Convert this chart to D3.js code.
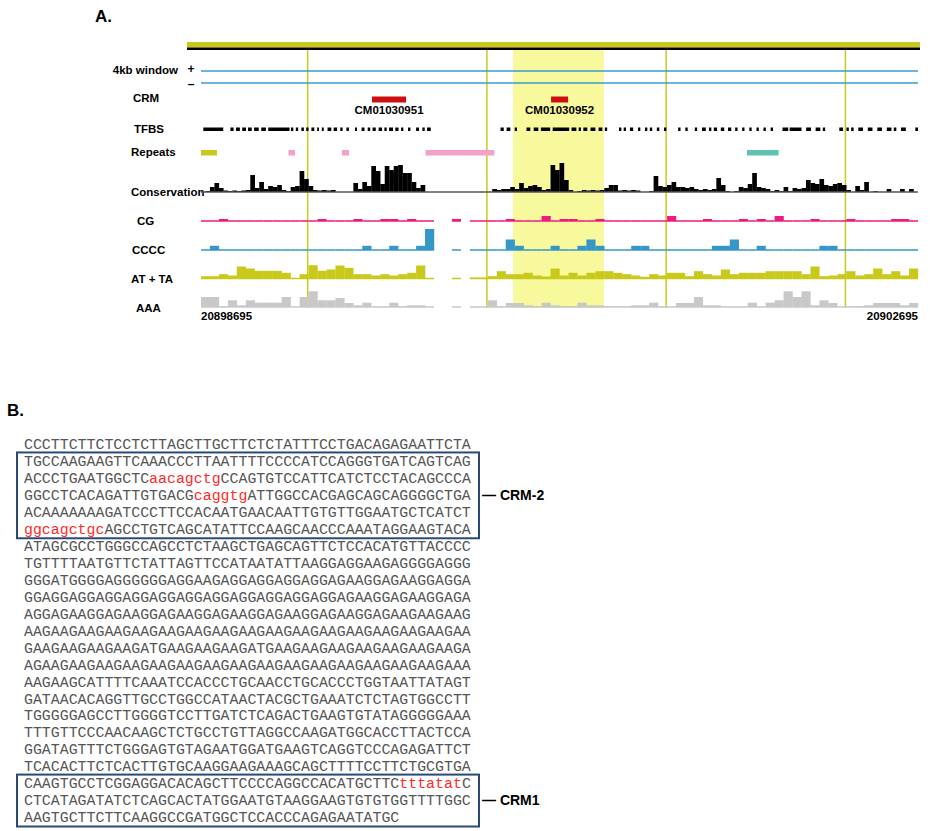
<!DOCTYPE html>
<html>
<head>
<meta charset="utf-8">
<script src="https://cdn.jsdelivr.net/npm/d3@7"></script>
<style>
  body { margin: 0; background: #fff; }
</style>
</head>
<body>
<div id="chart"></div>
<script>
// ---- data (positions are bp offsets from regionStart) ----
var regionStart = 20898695
var regionEnd = 20902695
var binSize = 50      // composition tracks
var consBinSize = 25  // conservation track

var trackLabels = ["4kb window", "CRM", "TFBS", "Repeats", "Conservation", "CG", "CCCC", "AT + TA", "AAA"]

var crmNames = ["CM01030951", "CM01030952"]
var crmStarts = [954, 1953]
var crmEnds = [1144, 2048]

var gridLines = [595, 1595, 2595, 3595]
var highlight = [1741, 2248]

var repeatStarts = [0, 488, 786, 1253, 3046]
var repeatEnds = [89, 524, 826, 1636, 3222]
var repeatKinds = ["simple", "sine", "sine", "sine", "ltr"]

var tfbsStarts = [13, 164, 195, 230, 262, 296, 336, 375, 502, 529, 560, 587, 616, 648, 674, 706, 740, 777, 811, 859, 896, 930, 957, 991, 1023, 1049, 1084, 1116, 1155, 1200, 1235, 1261,
  1671, 1705, 1750, 1816, 1856, 1896, 1962, 2067, 2107, 2133, 2173, 2218, 2253, 2332, 2358, 2393, 2438, 2477, 2504, 2543, 2583, 2662, 2702, 2755, 2795, 2834, 2861, 2900, 2940, 2980,
  3019, 3059, 3099, 3138, 3178, 3244, 3284, 3376, 3429, 3469, 3561, 3601, 3627, 3667, 3720, 3773, 3826, 3865, 3905, 3985]
var tfbsEnds = [124, 182, 217, 251, 283, 322, 362, 494, 515, 542, 574, 600, 632, 658, 685, 727, 759, 790, 825, 870, 912, 944, 975, 1010, 1036, 1071, 1102, 1129, 1168, 1216, 1248, 1282,
  1689, 1726, 1763, 1837, 1882, 1948, 2054, 2094, 2120, 2155, 2200, 2239, 2266, 2345, 2371, 2411, 2451, 2490, 2517, 2557, 2596, 2675, 2715, 2768, 2816, 2847, 2879, 2919, 2958, 2993,
  3032, 3072, 3112, 3151, 3191, 3276, 3350, 3403, 3455, 3482, 3582, 3614, 3641, 3693, 3746, 3799, 3852, 3879, 3932, 4000]

// conservation score, 160 bins of 25 bp
var conservation = [0, 1, 5, 9, 4, 1.5, 1, 1.5, 1, 1.5, 2, 17, 4, 10, 3, 6, 5, 7, 2, 1,
  5, 6, 21, 13, 6, 2, 1.5, 2, 1.5, 2, 0, 0, 0, 0, 9, 3, 10, 6, 26, 21,
  8, 26, 22, 26, 27, 19, 19, 10, 4, 7, 0, 0, 0, 0, 0, 0, 0, 0, 0, 0,
  0, 0, 0, 0, 0, 3, 2, 3, 3, 5, 3, 9, 4, 6, 7, 5, 2, 3, 27, 22,
  29, 12, 2, 0, 1, 2, 1.5, 2, 1.5, 2, 4, 7, 7, 1.5, 2, 1.5, 2, 1.5, 0, 0,
  1, 16, 6, 5, 7, 10, 5, 5, 4, 5, 3, 2, 3, 2, 3, 14, 7, 1, 0, 1,
  5, 4, 8, 19, 5, 4, 3, 1, 2, 1, 5, 1, 4, 3, 4, 12, 9, 8, 13, 7,
  6, 8, 9, 7, 2, 0, 6, 2, 10, 0, 1, 0, 0, 3, 0, 0, 3, 0, 3, 0]

// composition tracks, 80 bins of 50 bp (null = no data)
var cg = [0, 0, 1, 0, 0, 0, 0, 0, 0, 0, 0, 0, 0, 1, 0, 0, 0, 1, 0, 0,
  1, 1, 0, 1, 0, 0, null, null, 1, null, 0, 0, 0, 0, 1, 0, 0, 0, 2.5, 0,
  1, 1, 0, 0, 1, 0, 0, 0, 0, 0, 0, 0, 2.5, 0, 0, 0, 1, 0, 0, 0,
  1, 0, 1, 0, 2.5, 0, 0, 0, 1, 0, 0, 0, 1, 0, 0, 0, 0, 1, 1, 0]
var cccc = [0, 1, 0, 0, 0, 0, 0, 0, 0, 0, 0, 0, 0, 0, 0, 0, 0, 0, 1, 0,
  0, 1, 0, 0, 1, 5, null, null, 0, null, 0, 0, 0, 0, 2.5, 1, 0, 0, 0, 1,
  0, 0, 1, 2.5, 1, 0, 0, 0, 1, 1, 0, 0, 0, 0, 0, 0, 0, 1, 1, 2.5,
  0, 0, 1, 0, 0, 0, 0, 0, 0, 1, 1, 0, 0, 0, 0, 0, 0, 0, 0, 0]
var atta = [2.3, 2.3, 4.3, 3, 12, 10, 7.7, 7.7, 7.7, 5.7, 0, 4.3, 13.3, 7.7, 9, 13, 10.7, 4.3, 4.3, 3,
  4.3, 3, 4.3, 5.7, 13, 0, null, null, 0, null, 1, 1, 2.3, 7.3, 4.3, 4.3, 5.7, 3, 2, 10,
  3, 5.7, 3, 5.7, 7.3, 7.3, 5.7, 4.3, 3, 1.7, 4.3, 3, 5.7, 5.7, 2.3, 7.3, 4.3, 3, 9, 4.3,
  5.7, 5.7, 5.7, 7.3, 7.3, 7.3, 7.3, 4.3, 12, 2.3, 3, 4.3, 7.3, 3, 4.3, 10, 4.3, 7.3, 3, 10]
var aaa = [10, 10, 0.7, 6.7, 1.7, 6.7, 4.3, 4.3, 4.3, 10, 0, 10, 15.7, 6.7, 6.7, 9, 4, 1.7, 4.3, 0.3,
  0.3, 4.3, 0.7, 1.7, 1.7, 0, null, null, 0, null, 0.3, 0.3, 6.7, 0.7, 4, 4, 1.7, 0.7, 4.3, 1.7,
  0.7, 0.7, 4.3, 1.7, 1.7, 0.7, 0.7, 0.7, 1.7, 1.7, 4.3, 0.7, 0.3, 4, 4, 10, 1.7, 1.7, 0.3, 0.3,
  0.3, 4.3, 0.3, 4.3, 6.7, 15.7, 10, 15.7, 1.7, 6.7, 4, 0.3, 0.7, 0.7, 1.7, 4, 4, 4, 1.7, 4]

// section B: lowercase letters are the red motifs
var seqLines = [
  "CCCTTCTTCTCCTCTTAGCTTGCTTCTCTATTTCCTGACAGAGAATTCTA",
  "TGCCAAGAAGTTCAAACCCTTAATTTTCCCCATCCAGGGTGATCAGTCAG",
  "ACCCTGAATGGCTCaacagctgCCAGTGTCCATTCATCTCCTACAGCCCA",
  "GGCCTCACAGATTGTGACGcaggtgATTGGCCACGAGCAGCAGGGGCTGA",
  "ACAAAAAAAGATCCCTTCCACAATGAACAATTGTGTTGGAATGCTCATCT",
  "ggcagctgcAGCCTGTCAGCATATTCCAAGCAACCCAAATAGGAAGTACA",
  "ATAGCGCCTGGGCCAGCCTCTAAGCTGAGCAGTTCTCCACATGTTACCCC",
  "TGTTTTAATGTTCTATTAGTTCCATAATATTAAGGAGGAAGAGGGGAGGG",
  "GGGATGGGGAGGGGGGAGGAAGAGGAGGAGGAGGAGAAGGAGAAGGAGGA",
  "GGAGGAGGAGGAGGAGGAGGAGGAGGAGGAGGAGGAGAAGGAGAAGGAGA",
  "AGGAGAAGGAGAAGGAGAAGGAGAAGGAGAAGGAGAAGGAGAAGAAGAAG",
  "AAGAAGAAGAAGAAGAAGAAGAAGAAGAAGAAGAAGAAGAAGAAGAAGAA",
  "GAAGAAGAAGAAGATGAAGAAGAAGATGAAGAAGAAGAAGAAGAAGAAGA",
  "AGAAGAAGAAGAAGAAGAAGAAGAAGAAGAAGAAGAAGAAGAAGAAGAAA",
  "AAGAAGCATTTTCAAATCCACCCTGCAACCTGCACCCTGGTAATTATAGT",
  "GATAACACAGGTTGCCTGGCCATAACTACGCTGAAATCTCTAGTGGCCTT",
  "TGGGGGAGCCTTGGGGTCCTTGATCTCAGACTGAAGTGTATAGGGGGAAA",
  "TTTGTTCCCAACAAGCTCTGCCTGTTAGGCCAAGATGGCACCTTACTCCA",
  "GGATAGTTTCTGGGAGTGTAGAATGGATGAAGTCAGGTCCCAGAGATTCT",
  "TCACACTTCTCACTTGTGCAAGGAAGAAAGCAGCTTTTCCTTCTGCGTGA",
  "CAAGTGCCTCGGAGGACACAGCTTCCCCAGGCCACATGCTTCtttatatC",
  "CTCATAGATATCTCAGCACTATGGAATGTAAGGAAGTGTGTGGTTTTGGC",
  "AAGTGCTTCTTCAAGGCCGATGGCTCCACCCAGAGAATATGC"
]
var boxFirst = [2, 21]
var boxLast = [6, 23]
var boxLabelLine = [4, 22]
var boxLabels = ["\u2014 CRM-2", "\u2014 CRM1"]

// ---- layout ----
var W = 930, H = 831
var labelY = { "4kb window": 70, "CRM": 98, "TFBS": 129, "Repeats": 152, "Conservation": 192, "CG": 221, "CCCC": 250, "AT + TA": 279, "AAA": 308 }
// left edge of each label ("4kb window" is right aligned to the strand signs)
var labelX = { "CRM": 133, "TFBS": 134, "Repeats": 131, "Conservation": 131, "CG": 137, "CCCC": 132, "AT + TA": 131, "AAA": 136 }
var repeatColor = { simple: "#c9c91c", sine: "#f5a0c8", ltr: "#62c2b2" }
var yellow = "#c9c91c"

var svg = d3.select("#chart")
  .append("svg")
  .attr("width", W)
  .attr("height", H)
  .style("font-family", "'Liberation Sans', Arial, sans-serif")

svg.append("rect").attr("width", W).attr("height", H).attr("fill", "#fff")

var x = d3.scaleLinear()
  .domain([0, regionEnd - regionStart])
  .range([201, 918])

// panel letters
svg.append("text").attr("x", 95).attr("y", 22).text("A.")
  .attr("font-size", 17).attr("font-weight", "bold")
svg.append("text").attr("x", 7).attr("y", 416).text("B.")
  .attr("font-size", 17).attr("font-weight", "bold")

// chromosome bar on top
svg.append("rect").attr("x", 187).attr("y", 42).attr("width", 733).attr("height", 5.5).attr("fill", yellow)
svg.append("rect").attr("x", 187).attr("y", 47.5).attr("width", 733).attr("height", 2.5).attr("fill", "#000")

// highlighted region + kb grid lines
svg.append("rect")
  .attr("x", x(highlight[0])).attr("width", x(highlight[1]) - x(highlight[0]))
  .attr("y", 50).attr("height", 258)
  .attr("fill", "#f8f89c")

svg.selectAll(".grid").data(gridLines).enter().append("line")
  .attr("x1", d => x(d)).attr("x2", d => x(d))
  .attr("y1", 50).attr("y2", 308)
  .attr("stroke", yellow).attr("stroke-width", 1.5)

// track labels
svg.selectAll(".lab").data(trackLabels).enter().append("text")
  .attr("x", d => d === "4kb window" ? 178 : labelX[d])
  .attr("y", d => labelY[d])
  .attr("dy", "0.35em")
  .attr("text-anchor", d => d === "4kb window" ? "end" : "start")
  .attr("font-size", 11.5)
  .attr("font-weight", "bold")
  .text(d => d)

// 4kb window strands
svg.append("text").attr("x", 191).attr("y", 69).attr("dy", "0.35em").attr("text-anchor", "middle")
  .attr("font-size", 12).attr("font-weight", "bold").text("+")
svg.append("text").attr("x", 191).attr("y", 84).attr("dy", "0.35em").attr("text-anchor", "middle")
  .attr("font-size", 12).attr("font-weight", "bold").text("\u2013")
svg.selectAll(".win").data([71, 83]).enter().append("line")
  .attr("x1", x(0)).attr("x2", x(regionEnd - regionStart))
  .attr("y1", d => d).attr("y2", d => d)
  .attr("stroke", "#3a9ccc").attr("stroke-width", 1.5)

// CRMs
svg.selectAll(".crm").data(crmNames).enter().append("rect")
  .attr("x", (d, i) => x(crmStarts[i]))
  .attr("width", (d, i) => x(crmEnds[i]) - x(crmStarts[i]))
  .attr("y", 96.5).attr("height", 6)
  .attr("fill", "#cc1010")
svg.selectAll(".crmlab").data(crmNames).enter().append("text")
  .attr("x", (d, i) => x((crmStarts[i] + crmEnds[i]) / 2))
  .attr("y", 109.5).attr("dy", "0.35em")
  .attr("text-anchor", "middle")
  .attr("font-size", 11.5).attr("font-weight", "bold")
  .text(d => d)

// TFBS
svg.selectAll(".tfbs").data(tfbsStarts).enter().append("rect")
  .attr("x", (d, i) => x(d))
  .attr("width", (d, i) => x(tfbsEnds[i]) - x(d))
  .attr("y", 127.5).attr("height", 3.5)
  .attr("fill", "#000")

// repeats
svg.selectAll(".rep").data(repeatStarts).enter().append("rect")
  .attr("x", d => x(d))
  .attr("width", (d, i) => x(repeatEnds[i]) - x(d))
  .attr("y", 150).attr("height", 5.5)
  .attr("fill", (d, i) => repeatColor[repeatKinds[i]])

// conservation
var yCons = d3.scaleLinear().domain([0, 30]).range([192, 162])
svg.append("g").selectAll("rect").data(conservation).enter().append("rect")
  .attr("x", (d, i) => x(i * consBinSize))
  .attr("width", (d, i) => x((i + 1) * consBinSize) - x(i * consBinSize) + 0.2)
  .attr("y", d => yCons(d))
  .attr("height", d => 192 - yCons(d))
  .attr("fill", "#000")
svg.append("line")
  .attr("x1", x(0)).attr("x2", x(regionEnd - regionStart))
  .attr("y1", 192).attr("y2", 192)
  .attr("stroke", "#555").attr("stroke-width", 1.5)

// composition histograms
function histTrack(values, base, maxVal, maxPx, color) {
  var y = d3.scaleLinear().domain([0, maxVal]).range([base, base - maxPx])
  var bins = values.map(function (v, i) { return { i: i, v: v } })
    .filter(function (d) { return d.v !== null })
  var g = svg.append("g")
  g.selectAll("rect").data(bins).enter().append("rect")
    .attr("x", d => x(d.i * binSize))
    .attr("width", d => x((d.i + 1) * binSize) - x(d.i * binSize) + 0.2)
    .attr("y", d => y(d.v))
    .attr("height", d => base - y(d.v))
    .attr("fill", color)
  g.selectAll("line").data(bins).enter().append("line")
    .attr("x1", d => x(d.i * binSize))
    .attr("x2", d => x((d.i + 1) * binSize))
    .attr("y1", base).attr("y2", base)
    .attr("stroke", color).attr("stroke-width", 1.5)
}
histTrack(cg, 221, 3, 6, "#ee1a80")
histTrack(cccc, 250, 5, 21, "#3596c8")
histTrack(atta, 278.5, 14, 14, "#c9c91c")
histTrack(aaa, 307, 16, 16, "#c8c8c8")

// coordinates
svg.append("text").attr("x", x(0)).attr("y", 316).attr("dy", "0.35em")
  .attr("font-size", 11.5).attr("font-weight", "bold").text(regionStart)
svg.append("text").attr("x", x(regionEnd - regionStart)).attr("y", 316).attr("dy", "0.35em")
  .attr("text-anchor", "end")
  .attr("font-size", 11.5).attr("font-weight", "bold").text(regionEnd)

// ---- B. sequence ----
var lineY = d3.scaleLinear().domain([1, 23]).range([444, 817])
var seqX = 24

var seq = svg.append("g")
  .style("font-family", "'Liberation Mono', 'Courier New', monospace")
  .attr("font-size", 14.9)

seqLines.forEach(function (line, k) {
  var t = seq.append("text")
    .attr("x", seqX)
    .attr("y", lineY(k + 1))
    .attr("dy", "0.35em")
  var parts = line.match(/[A-Z]+|[a-z]+/g)
  parts.forEach(function (p) {
    t.append("tspan")
      .attr("fill", p === p.toLowerCase() ? "#ff2a2a" : "#555")
      .text(p)
  })
})

svg.selectAll(".box").data(boxFirst).enter().append("rect")
  .attr("x", 17)
  .attr("y", d => lineY(d) - 8.5)
  .attr("width", 462)
  .attr("height", (d, i) => lineY(boxLast[i]) - lineY(d) + 18)
  .attr("fill", "none")
  .attr("stroke", "#294a78")
  .attr("stroke-width", 2)

svg.selectAll(".boxlab").data(boxLabels).enter().append("text")
  .attr("x", 482)
  .attr("y", (d, i) => lineY(boxLabelLine[i]))
  .attr("dy", "0.35em")
  .attr("font-size", 14)
  .attr("font-weight", "bold")
  .text(d => d)
</script>
</body>
</html>
